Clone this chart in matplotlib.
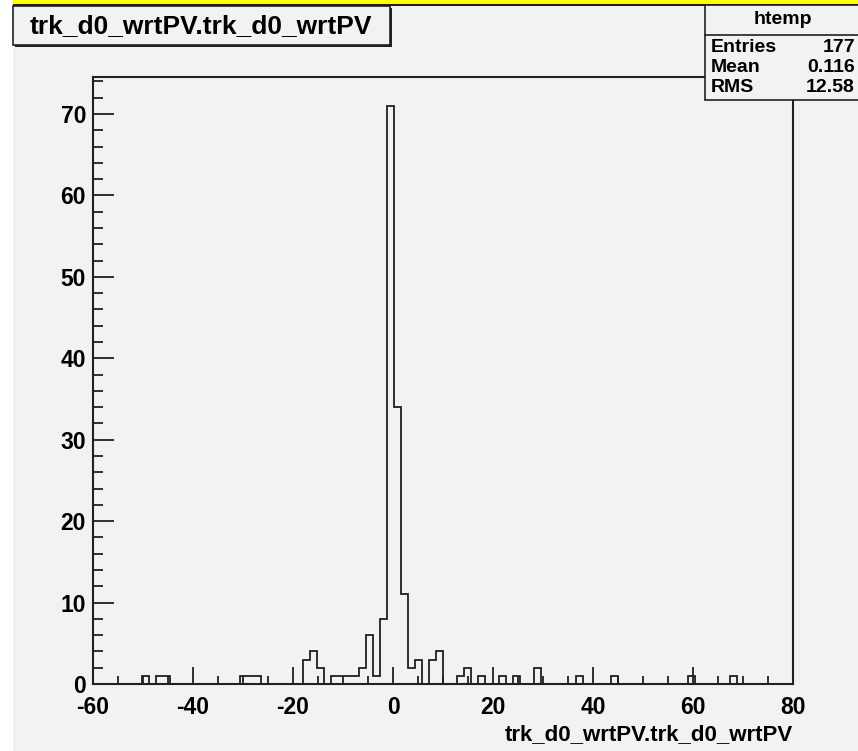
import numpy as np
import matplotlib
matplotlib.use("Agg")
import matplotlib.pyplot as plt
from matplotlib.patches import Rectangle

plt.rcParams['font.family'] = ['Liberation Sans', 'DejaVu Sans']
plt.rcParams['font.weight'] = 'bold'
plt.rcParams['axes.unicode_minus'] = False

# histogram htemp: 100 bins from -60 to 80
x_min, x_max, n_bins = -60.0, 80.0, 100
bin_counts = [
    0, 0, 0, 0, 0, 0, 0, 1, 0, 1,
    1, 0, 0, 0, 0, 0, 0, 0, 0, 0,
    0, 1, 1, 1, 0, 0, 0, 0, 0, 0,
    3, 4, 2, 0, 1, 1, 1, 1, 2, 6,
    1, 8, 71, 34, 11, 2, 3, 0, 3, 4,
    0, 0, 1, 2, 0, 1, 0, 0, 1, 0,
    1, 0, 0, 2, 0, 0, 0, 0, 0, 1,
    0, 0, 0, 0, 1, 0, 0, 0, 0, 0,
    0, 0, 0, 0, 0, 1, 0, 0, 0, 0,
    0, 1, 0, 0, 0, 0, 0, 0, 0, 0,
]
hist_name = "htemp"
var_name = "trk_d0_wrtPV.trk_d0_wrtPV"
stat_labels = ["Entries", "Mean", "RMS"]
stat_values = ["177", "0.116", "12.58"]
x_ticks = [-60, -40, -20, 0, 20, 40, 60, 80]
y_ticks = [0, 10, 20, 30, 40, 50, 60, 70]

W, H = 858, 751
bg = '#f2f2f2'
ink = '#202020'
fig = plt.figure(figsize=(W / 100, H / 100), dpi=100, facecolor=bg)

def px(x0, y0, x1, y1):
    # pixel box (top-left origin) -> figure fraction rect
    return [x0 / W, 1 - y1 / H, (x1 - x0) / W, (y1 - y0) / H]

def frect(x0, y0, x1, y1, **kw):
    r = Rectangle((x0 / W, 1 - y1 / H), (x1 - x0) / W, (y1 - y0) / H,
                  transform=fig.transFigure, **kw)
    fig.patches.append(r)
    return r

# white strip on the left, yellow line on top
frect(0, 0, 13, H, facecolor='white', edgecolor='none', zorder=-5)
frect(13, 0, W, 4, facecolor='#ffff00', edgecolor='none', zorder=-5)
frect(13, 4, W, 5.5, facecolor=ink, edgecolor='none', zorder=-5)

ax = fig.add_axes(px(93, 77, 793, 684))
ax.set_zorder(1)
ax.set_facecolor(bg)
edges = np.linspace(x_min, x_max, n_bins + 1)
ax.stairs(bin_counts, edges, color=ink, linewidth=1.3)
ax.set_xlim(x_min, x_max)
ax.set_ylim(0, max(bin_counts) * 1.05)

for s in ax.spines.values():
    s.set_linewidth(1.5)
    s.set_color(ink)

ax.set_xticks(x_ticks)
ax.set_xticks(np.arange(-55, 80, 5), minor=True)
ax.set_yticks(y_ticks)
ax.set_yticks(np.arange(0, 75, 2), minor=True)
ax.tick_params(which='both', direction='in', top=False, right=False, width=1.3, color=ink)
ax.tick_params(axis='x', which='major', length=12.5, pad=9, labelsize=16.5)
ax.tick_params(axis='x', which='minor', length=6)
ax.tick_params(axis='y', which='major', length=15, pad=5, labelsize=16.5)
ax.tick_params(axis='y', which='minor', length=7)

fig.text(793 / W, 1 - 735 / H, var_name, ha='right', va='center', fontsize=16, fontweight='bold')

# title box with shadow
frect(15, 8, 392, 47, facecolor=ink, edgecolor='none', zorder=2)
frect(13, 6, 390, 45, facecolor=bg, edgecolor=ink, linewidth=1.2, zorder=3)
fig.text(201 / W, 1 - 26 / H, var_name, ha='center', va='center', fontsize=19,
         fontweight='bold', zorder=4)

# stats box
frect(705, 5, W + 5, 100, facecolor=bg, edgecolor=ink, linewidth=1.2, zorder=3)
fig.lines.append(plt.Line2D([705 / W, 1], [1 - 35 / H, 1 - 35 / H], transform=fig.transFigure,
                            color=ink, linewidth=1.2, zorder=4))
fig.text(783 / W, 1 - 19 / H, hist_name, ha='center', va='center', fontsize=14, zorder=5)
for i, (lab, val) in enumerate(zip(stat_labels, stat_values)):
    yy = 1 - (47 + 20.5 * i) / H
    fig.text(711 / W, yy, lab, ha='left', va='center', fontsize=14, zorder=5)
    fig.text(855 / W, yy, val, ha='right', va='center', fontsize=14, zorder=5)

fig.savefig('out.png', dpi=100, facecolor=bg)
